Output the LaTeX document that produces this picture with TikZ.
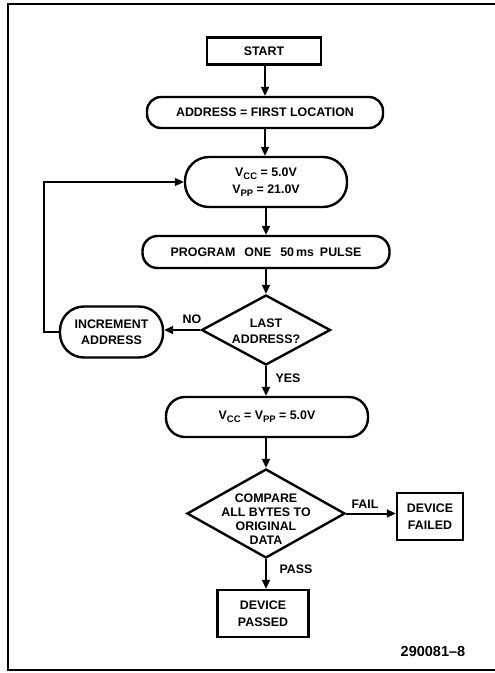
\documentclass[tikz,border=0pt]{standalone}
\usepackage{fontspec}
\setmainfont{Liberation Sans}
\usetikzlibrary{arrows.meta,shapes.geometric}
\newcommand{\sbs}[1]{\raisebox{-3pt}{\fontsize{9.5}{9.5}\selectfont #1}}
\begin{document}
\begin{tikzpicture}[x=1pt,y=-1pt,
  font=\bfseries\fontsize{12.4}{16.5}\selectfont,
  sq/.style={draw, line width=2.4pt, inner sep=0pt, align=center},
  rnd/.style={sq, rounded corners=#1},
  dia/.style={draw, diamond, line width=2.4pt, inner sep=0pt},
  arr/.style={line width=2pt, -{Triangle[length=9pt,width=8pt]}},
  lbl/.style={inner sep=0pt},
  txt/.style={align=center, inner sep=0pt},
  frame/.style={line width=1.5pt}]
\useasboundingbox (0,0) rectangle (495,673);
% frame
\draw[frame] (495,4) -- (8,4) -- (8,670) -- (495,670);
% nodes
\node[sq, minimum width=114pt, minimum height=27pt] (start) at (264,51) {START};
\node[rnd=14pt, minimum width=236pt, minimum height=31pt] (addr) at (265,112.5) {ADDRESS = FIRST LOCATION};
\node[rnd=24pt, minimum width=162pt, minimum height=50pt] (vcc) at (266,182) {V\sbs{CC} = 5.0V\\V\sbs{PP} = 21.0V};
\node[rnd=15pt, minimum width=247pt, minimum height=32pt] (prog) at (266,252) {PROGRAM\hspace{9pt}ONE\hspace{9pt}50\hspace{2pt}ms\hspace{6pt}PULSE};
\node[dia, minimum width=129pt, minimum height=70pt] (last) at (266,330) {};
\node[txt] (lastt) at (266,331) {LAST\\ADDRESS?};
\node[rnd=24pt, minimum width=103pt, minimum height=51pt] (inc) at (111.5,332) {INCREMENT\\ADDRESS};
\node[rnd=19pt, minimum width=202pt, minimum height=40pt] (vpp) at (267,417) {V\sbs{CC} = V\sbs{PP} = 5.0V};
\node[dia, minimum width=158pt, minimum height=89pt] (cmp) at (266,513.5) {};
\node[txt, font=\bfseries\fontsize{12.4}{14}\selectfont] (cmpt) at (266,519) {COMPARE\\ALL BYTES TO\\ORIGINAL\\DATA};
\node[sq, minimum width=66pt, minimum height=47pt] (failed) at (430,516.5) {DEVICE\\FAILED};
\node[sq, minimum width=91pt, minimum height=47pt] (passed) at (263,613.5) {DEVICE\\PASSED};
% labels
\node[lbl] (no) at (192,319) {NO};
\node[lbl] (yes) at (288,378) {YES};
\node[lbl] (fail) at (365,504) {FAIL};
\node[lbl] (pass) at (296,569) {PASS};
\node[lbl, font=\bfseries\fontsize{14.5}{16}\selectfont] (fig) at (433,652) {290081\textendash 8};
% connectors
\draw[arr] (start.south -| addr.north) -- (addr.north);
\draw[arr] (addr.south) -- (addr.south |- vcc.north);
\draw[arr] (vcc.south) -- (prog.north);
\draw[arr] (prog.south) -- (last.north);
\draw[arr] (last.west) -- (last.west -| inc.east);
\draw[arr] (inc.west) -- ++(-15,0) |- (vcc.west);
\draw[arr] (last.south) -- (last.south |- vpp.north);
\draw[arr] (vpp.south) -- (vpp.south -| cmp.north) -- (cmp.north);
\draw[arr] (cmp.east) -- (cmp.east -| failed.west);
\draw[arr] (cmp.south) -- (cmp.south |- passed.north);
\end{tikzpicture}
\end{document}
